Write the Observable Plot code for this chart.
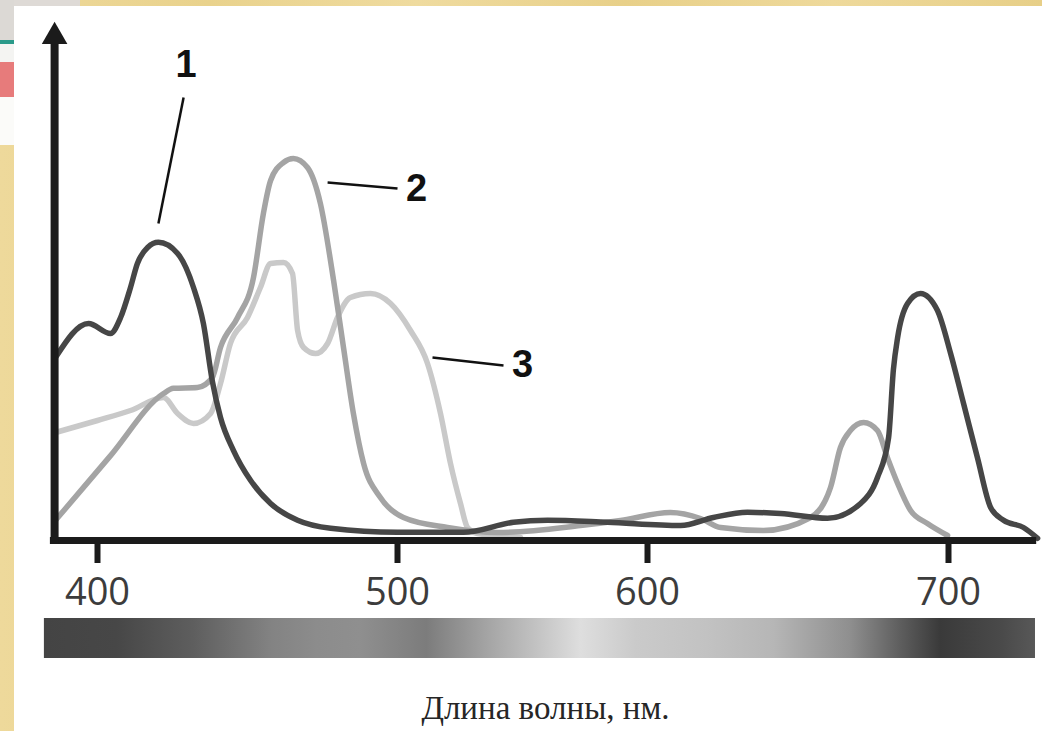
<!DOCTYPE html>
<html><head><meta charset="utf-8">
<script src="https://cdn.jsdelivr.net/npm/d3@7"></script>
<script src="https://cdn.jsdelivr.net/npm/@observablehq/plot@0.6"></script>
<style>
html,body{margin:0;padding:0;}
body{width:1042px;height:731px;overflow:hidden;position:relative;background:linear-gradient(90deg,#eed99b,#e9d28c 20%,#efdb9f 40%,#e8d089 60%,#eed99b 80%,#e7cf88);}
.blk{position:absolute;}
#panel{left:14px;top:6px;right:0;bottom:0;background:#fff;}
#chart{position:absolute;left:0;top:0;}
</style></head><body>
<div class="blk" style="left:0;top:0;width:80px;height:6px;background:#dedad6"></div>
<div class="blk" style="left:0;top:0;width:14px;height:40px;background:#dcd9d5"></div>
<div class="blk" style="left:0;top:40px;width:14px;height:22px;background:#f4f4f2;border-top:4px solid #2a9a8a;box-sizing:border-box"></div>
<div class="blk" style="left:0;top:62px;width:14px;height:35px;background:#e77b7b"></div>
<div class="blk" style="left:0;top:97px;width:14px;height:48px;background:#fbfbf9"></div>
<div class="blk" id="panel"></div>
<div id="chart"></div>
<script>
// x tick values and labels (wavelength, nm)
const xTicks = [400, 500, 600, 700];
const xTickLabels = ["400", "500", "600", "700"];

// curves: [wavelength nm, relative absorption]
const curve1 = [[386,0.46],[397,0.545],[404.3,0.52],[407.7,0.56],[411,0.635],[413.3,0.695],[416.7,0.735],[420.3,0.748],[426.7,0.72],[432,0.635],[435.3,0.545],[438.3,0.40],[441,0.31],[445.3,0.228],[451,0.153],[457.7,0.095],[466.7,0.053],[477.7,0.033],[500,0.023],[526.4,0.023],[546.4,0.048],[560,0.053],[584,0.048],[611,0.04],[621.9,0.06],[633.2,0.073],[644.2,0.07],[659.8,0.058],[670.8,0.095],[676.4,0.16],[680.1,0.26],[681.7,0.43],[683.1,0.51],[686.4,0.595],[690.7,0.62],[696.3,0.578],[700.7,0.47],[705,0.345],[709.6,0.21],[714,0.085],[718.3,0.053],[724.9,0.035],[729.6,0.008]];
const curve2 = [[386,0.053],[404,0.2115],[422,0.37],[425.3,0.383],[433.3,0.385],[438.3,0.41],[441,0.485],[446.7,0.56],[452,0.66],[455.3,0.82],[457.7,0.9025],[462,0.9475],[465.3,0.9575],[470,0.935],[474.3,0.845],[478.7,0.6525],[482,0.485],[485.3,0.32],[488.7,0.195],[494.3,0.11],[502.4,0.06],[520,0.035],[540,0.0225],[573.2,0.04],[589.2,0.0525],[607.6,0.0725],[617.6,0.0575],[624.3,0.035],[638.5,0.0275],[654.2,0.06],[660.8,0.135],[664.1,0.235],[667.4,0.2775],[671.8,0.2975],[676.4,0.2775],[679.7,0.21],[683.1,0.145],[687.4,0.0775],[693,0.045],[699.7,0.015]];
const curve3 = [[386,0.2725],[400,0.3025],[411,0.3275],[422,0.36],[426.7,0.32],[432,0.295],[437.7,0.32],[441,0.395],[444.3,0.495],[450,0.56],[454.3,0.635],[457.7,0.695],[462,0.6975],[465,0.67],[466.7,0.5275],[468.7,0.485],[472.7,0.47],[476.7,0.495],[480,0.56],[484.3,0.61],[491,0.62],[497.7,0.595],[505.2,0.5275],[512,0.445],[517.2,0.32],[521.2,0.195],[525.2,0.095],[528,0.035],[532,0.02],[549.2,0.01]];

// curve labels and their leader lines
const curveLabels = [
  {text: "1", x: 429.5, y: 1.1905},
  {text: "2", x: 507.6, y: 0.8805},
  {text: "3", x: 550, y: 0.4405}
];
const leaders = [
  {x1: 428.7, y1: 1.11, x2: 420.3, y2: 0.795},
  {x1: 476.7, y1: 0.8975, x2: 500, y2: 0.8825},
  {x1: 514, y1: 0.46, x2: 542.4, y2: 0.44}
];

// spectrum bar gradient stops (nm -> grey)
const specNm   = [382.3, 407.7, 434.3, 462, 477.7, 492.7, 516, 537.2, 570, 589.2, 614.3, 637.5, 664.1, 681.7, 695.7, 717.3, 728.9];
const specGray = ["#444444","#474747","#5e5e5e","#838383","#8c8c8c","#8f8f8f","#7c7c7c","#a4a4a4","#dedede","#cacaca","#c2c2c2","#b6b6b6","#8f8f8f","#5e5e5e","#3a3a3a","#4a4a4a","#585858"];

const caption = "Длина волны, нм.";

const axisX0 = 384.3, axisX1 = 729.3, axisYx = 385.7, arrowTop = 1.2625;

// the original figure's wavelength axis is not uniform: piecewise warp
const warp = d3.scaleLinear().domain([400, 500, 600, 700]).range([97, 397, 647, 948]);

const plot = Plot.plot({
  width: 1042, height: 731, margin: 0,
  style: {background: "transparent", overflow: "visible"},
  x: {transform: warp, domain: [0, 1042], range: [0, 1042], axis: null},
  y: {domain: [0, 1], range: [541, 141], axis: null},
  marks: [
    Plot.rect([{a: specNm[0], b: specNm[specNm.length - 1]}], {x1: "a", x2: "b", y1: () => -0.1925, y2: () => -0.2925, fill: "url(#spec)"}),
    Plot.line(curve3, {x: d => d[0], y: d => d[1], curve: "monotone-x", stroke: "#c9c9c9", strokeWidth: 5.5}),
    Plot.line(curve2, {x: d => d[0], y: d => d[1], curve: "monotone-x", stroke: "#a4a4a4", strokeWidth: 5.5}),
    Plot.line(curve1, {x: d => d[0], y: d => d[1], curve: "monotone-x", stroke: "#464646", strokeWidth: 5.5}),
    Plot.ruleY([0], {x1: () => axisX0, x2: () => axisX1, stroke: "#1b1b1b", strokeWidth: 7, dy: -1}),
    Plot.ruleX([axisYx], {x: d => d, y1: () => -0.0075, y2: () => arrowTop, stroke: "#1b1b1b", strokeWidth: 8}),
    Plot.dot([axisYx], {x: d => d, y: () => arrowTop, symbol: "triangle", r: 9.5, fill: "#1b1b1b", stroke: "none"}),
    Plot.ruleX(xTicks, {x: d => d, y1: () => 0, y2: () => -0.055, stroke: "#1b1b1b", strokeWidth: 6}),
    Plot.text(xTicks, {x: d => d, y: () => -0.129, text: (d, i) => xTickLabels[i], fontSize: 38, fontFamily: "Open Sans", fill: "#3c3c3c"}),
    Plot.link(leaders, {x1: "x1", y1: "y1", x2: "x2", y2: "y2", stroke: "#111", strokeWidth: 2.5}),
    Plot.text(curveLabels, {x: "x", y: "y", text: "text", fontSize: 38, fontWeight: "bold", fontFamily: "Liberation Sans", fill: "#111"}),
    Plot.text([caption], {x: () => 559.2, y: () => -0.4175, text: d => d, fontSize: 33, fontFamily: "Liberation Serif", fill: "#262626"})
  ]
});

const sx = plot.scale("x");
const a = sx.apply(specNm[0]), b = sx.apply(specNm[specNm.length - 1]);
const grad = d3.select(plot).insert("defs", ":first-child").append("linearGradient")
  .attr("id", "spec").attr("x1", 0).attr("x2", 1).attr("y1", 0).attr("y2", 0);
specNm.forEach((n, i) => grad.append("stop").attr("offset", (sx.apply(n) - a) / (b - a)).attr("stop-color", specGray[i]));

document.getElementById("chart").appendChild(plot);
</script>
</body></html>
